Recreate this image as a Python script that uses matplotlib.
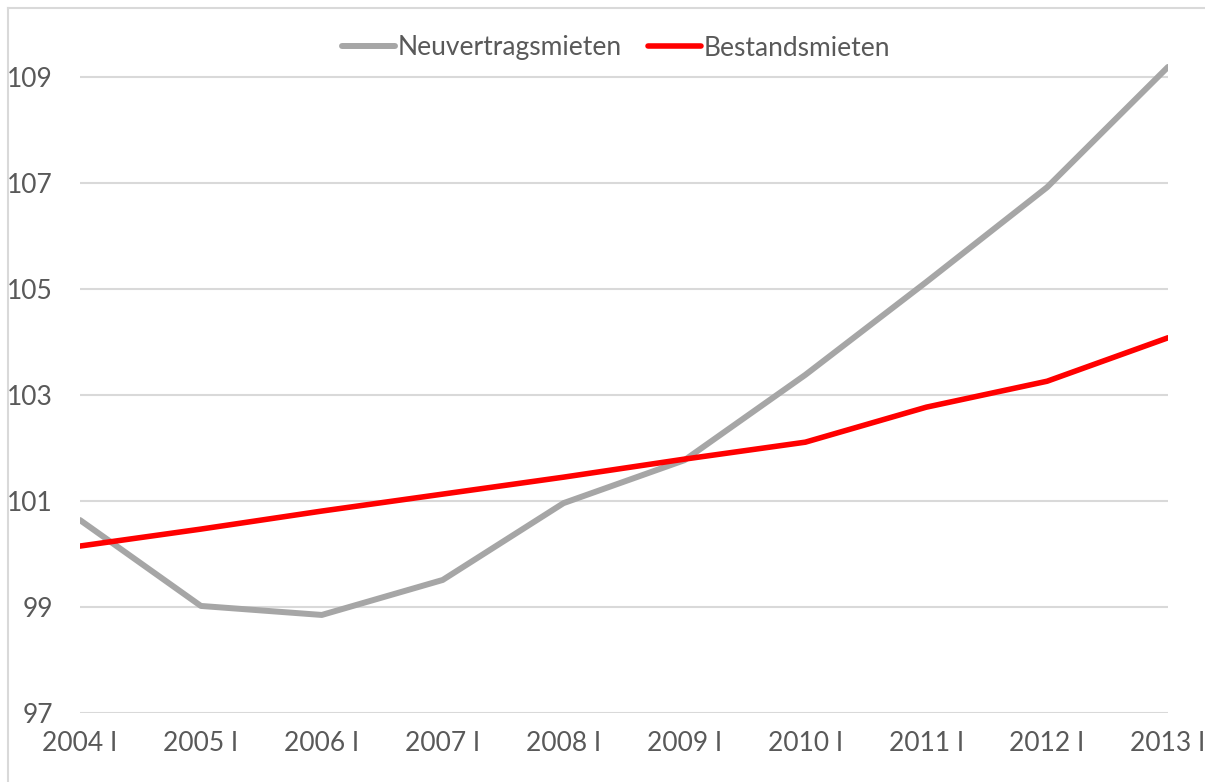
import matplotlib.pyplot as plt
from matplotlib.lines import Line2D

# =========================
# DATA
# =========================

quarters = ["2004 I", "2005 I", "2006 I", "2007 I", "2008 I",
            "2009 I", "2010 I", "2011 I", "2012 I", "2013 I"]

neuvertragsmieten = [100.64, 99.02, 98.85, 99.51, 100.96,
                     101.77, 103.38, 105.13, 106.92, 109.19]

bestandsmieten = [100.15, 100.47, 100.81, 101.13, 101.45,
                  101.79, 102.11, 102.77, 103.26, 104.08]

y_ticks = [97, 99, 101, 103, 105, 107, 109]

# =========================
# STYLE
# =========================

plt.rcParams["font.family"] = ["Lato", "DejaVu Sans"]
text_color = "#595959"
grid_color = "#D9D9D9"
fs = 19

W, H = 1205, 782
fig = plt.figure(figsize=(W / 100, H / 100), dpi=100)

left, right, bottom, top = 80, 1168, 713, 10
ax = fig.add_axes([left / W, 1 - bottom / H, (right - left) / W, (bottom - top) / H])

x = list(range(len(quarters)))

ax.plot(x, neuvertragsmieten, color="#A6A6A6", lw=4.3,
        solid_capstyle="round", label="Neuvertragsmieten", zorder=3)
ax.plot(x, bestandsmieten, color="#FF0000", lw=4.0,
        solid_capstyle="round", label="Bestandsmieten", zorder=4)

ax.set_xlim(0, len(quarters) - 1)
ax.set_ylim(97, 97 + (bottom - top) / 53)

ax.set_yticks(y_ticks)
ax.set_yticklabels([str(t) for t in y_ticks])
ax.set_xticks(x)
ax.set_xticklabels(quarters)

ax.tick_params(axis="both", length=0, labelsize=fs, labelcolor=text_color)
ax.tick_params(axis="y", pad=19.5)
ax.tick_params(axis="x", pad=13)

for t in y_ticks:
    ax.axhline(t, color=grid_color, lw=1.5, zorder=1)

for s in ax.spines.values():
    s.set_visible(False)

# legend
fig.legend(loc="center", bbox_to_anchor=(616 / W, 1 - 48 / H), ncol=2,
           frameon=False, fontsize=fs, labelcolor=text_color,
           handlelength=2.0, handletextpad=0.1, columnspacing=1.0)

# outer frame (cropped at right / bottom)
fig.add_artist(Line2D([8 / W, 8 / W], [0, 1 - 8 / H], transform=fig.transFigure,
                      color=grid_color, lw=1.5))
fig.add_artist(Line2D([8 / W, 1.01], [1 - 8 / H, 1 - 8 / H], transform=fig.transFigure,
                      color=grid_color, lw=1.5))

fig.savefig("out.png", dpi=100)
